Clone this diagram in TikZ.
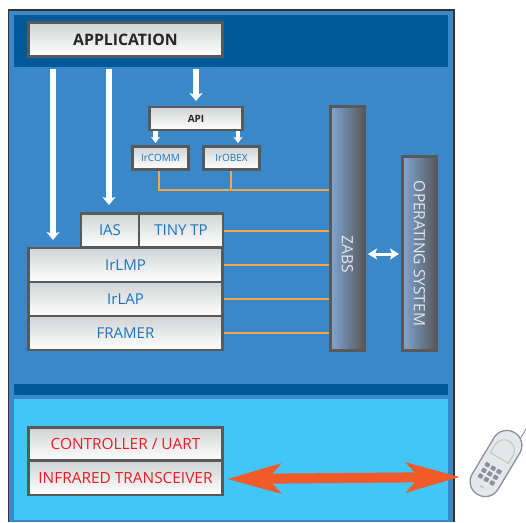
\documentclass[tikz,border=0pt]{standalone}
\usepackage{fontspec}
\setmainfont{Open Sans}
\usetikzlibrary{arrows.meta,calc}
\definecolor{framecol}{HTML}{333436}
\definecolor{midblue}{HTML}{3B88C8}
\definecolor{darkband}{HTML}{005A9A}
\definecolor{cyanzone}{HTML}{42C6F8}
\definecolor{boxline}{HTML}{58595B}
\definecolor{boxtop}{HTML}{D1D3D4}
\definecolor{labelblue}{HTML}{1C75BC}
\definecolor{labelred}{HTML}{ED1C24}
\definecolor{wire}{HTML}{F7A84A}
\definecolor{barlight}{HTML}{7FA5D4}
\definecolor{signal}{HTML}{F15A29}
\definecolor{phoneline}{HTML}{8D8FA3}
\definecolor{phonebody}{HTML}{E6E7E8}
\definecolor{phonescreen}{HTML}{B5CDBF}
\tikzset{
  box/.style={draw=boxline,line width=2.1pt,top color=boxtop,bottom color=white,inner sep=0pt,
    font=\fontsize{15}{15}\selectfont,text=labelblue},
  bigbox/.style={box,font=\fontsize{15.8}{16}\selectfont\bfseries,text=black!85},
  smallbox/.style={box,font=\fontsize{10}{10}\selectfont},
  redbox/.style={box,text=labelred,font=\fontsize{15.4}{15}\selectfont},
  vbar/.style={draw=boxline,line width=2.1pt,rotate=-90,left color=barlight,right color=boxline,inner sep=0pt,
    text=phonebody,font=\fontsize{15.5}{15}\selectfont},
  wireline/.style={draw=wire,line width=2pt},
  bigdown/.style={draw=white,line width=6pt,-{Stealth[length=8pt,width=13pt,inset=2pt]}},
  smalldown/.style={draw=white,line width=4.5pt,-{Stealth[length=6pt,width=9pt,inset=1.5pt]}},
  twoway/.style={draw=white,line width=3pt,{Stealth[length=9pt,width=11pt,inset=2pt]}-{Stealth[length=9pt,width=11pt,inset=2pt]}},
  redway/.style={draw=signal,line width=10pt,{Stealth[length=53pt,width=29pt,inset=12pt]}-{Stealth[length=53pt,width=29pt,inset=12pt]}},
  key/.style={fill=phoneline,rounded corners=0.8pt}
}
\begin{document}
\begin{tikzpicture}[x=1pt,y=-1pt]
\useasboundingbox (0,0) rectangle (526,522);
% zones
\fill[midblue] (8.5,10) rectangle (454,522);
\draw[framecol,line width=1.3pt] (8.5,522) -- (8.5,10) -- (454,10) -- (454,522);
\fill[darkband] (14,15) rectangle (448,67);
\fill[darkband] (14,384) rectangle (448,395);
\fill[cyanzone] (14,399) rectangle (448,520);
% boxes
\node[bigbox,minimum width=194pt,minimum height=34pt] (app) at (125.5,39.5) {APPLICATION};
\node[smallbox,font=\fontsize{10}{10}\selectfont\bfseries,text=black!85,minimum width=93pt,minimum height=23pt] (api) at (196,118.5) {API};
\node[smallbox,minimum width=56pt,minimum height=23pt] (ircomm) at (160.5,158) {IrCOMM};
\node[smallbox,minimum width=56pt,minimum height=23pt] (irobex) at (231.5,158) {IrOBEX};
\node[box,minimum width=58pt,minimum height=34pt] (ias) at (110,230.5) {IAS};
\node[box,minimum width=84pt,minimum height=34pt] (tiny) at (181,230.5) {TINY TP};
\node[box,minimum width=194pt,minimum height=34pt] (irlmp) at (125.5,265) {IrLMP};
\node[box,minimum width=194pt,minimum height=34pt] (irlap) at (125.5,299) {IrLAP};
\node[box,minimum width=194pt,minimum height=34pt] (framer) at (125.5,333) {FRAMER};
\node[vbar,minimum width=244pt,minimum height=34pt] (zabs) at (347.5,228.5) {\hspace*{51pt}ZABS};
\node[vbar,minimum width=194pt,minimum height=34pt] (os) at (419.5,253.5) {OPERATING SYSTEM};
\node[redbox,minimum width=194pt,minimum height=33pt] (ctrl) at (125.5,444) {CONTROLLER / UART};
\node[redbox,minimum width=194pt,minimum height=34pt] (trans) at (125.5,478) {INFRARED TRANSCEIVER};
% connector ends
\coordinate (a1s) at (53,69); \coordinate (a1e) at (53,240);
\coordinate (a2s) at (109,69); \coordinate (a2e) at (109,205);
\coordinate (a3s) at (196,69); \coordinate (a3e) at (196,101);
\coordinate (d1) at (368,254); \coordinate (d2) at (399,254);
\coordinate (r1) at (227,479); \coordinate (r2) at (460,477);
\coordinate (w1) at (159,170.5); \coordinate (w2) at (231,170.5);
% white arrows
\draw[bigdown] (a1s) -- (a1e);
\draw[bigdown] (a2s) -- (a2e);
\draw[bigdown] (a3s) -- (a3e);
\draw[smalldown] (api.south -| 155.5,0) -- (155.5,143);
\draw[smalldown] (api.south -| 238,0) -- (238,143);
\draw[twoway] (d1) -- (d2);
% orange wires
\draw[wireline] (w1) |- (zabs.south |- 0,190);
\draw[wireline] (w2) -- (w2 |- 0,190);
\draw[wireline] (tiny.east) -- (tiny.east -| zabs.south);
\draw[wireline] (irlmp.east) -- (irlmp.east -| zabs.south);
\draw[wireline] (irlap.east) -- (irlap.east -| zabs.south);
\draw[wireline] (framer.east) -- (framer.east -| zabs.south);
% signal
\draw[redway] (r1) -- (r2);
% phone
\begin{scope}[shift={(496,463.5)},rotate=-31]
  \draw[phoneline,line width=0.9pt] (8,-33) -- (8,-50);
  \draw[phoneline,line width=1.3pt,fill=phonebody,rounded corners=14.8pt] (-15,-36) rectangle (15,36);
  \draw[phonescreen,line width=1pt] (-10.5,-6.5) -- (-10.5,-15.5) arc[start angle=180,end angle=360,radius=10.5] -- (10.5,-6.5) -- cycle;
  \foreach \r in {0,1,2}{\foreach \c in {0,1,2}{
    \fill[key] ({-6.8+\c*6.8-2.4},{5.5+\r*6.6-2.2}) rectangle ++(4.8,4.4);
  }}
  \fill[phonescreen] (-2,26.5) rectangle (2,28);
\end{scope}
\end{tikzpicture}
\end{document}
